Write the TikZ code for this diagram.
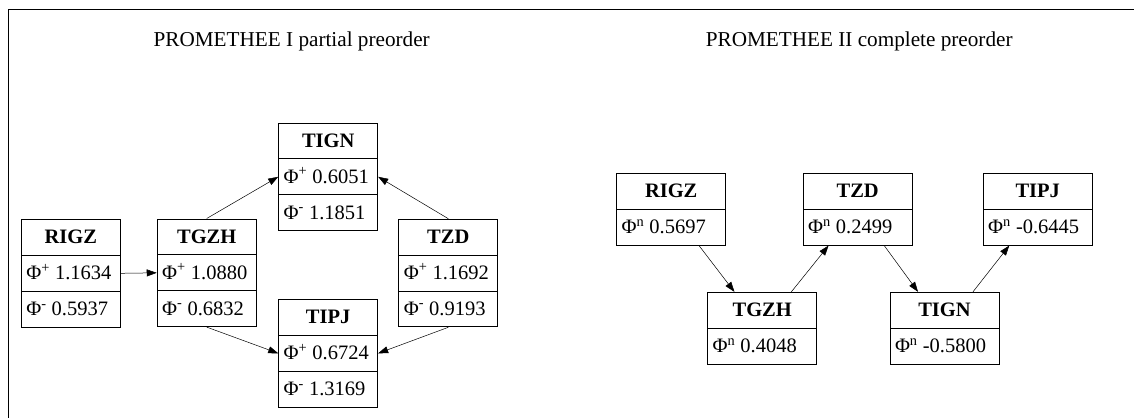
\documentclass[tikz,border=0pt]{standalone}
\usepackage{fontspec}
\setmainfont{Liberation Serif}
\usetikzlibrary{shapes.multipart,arrows.meta,calc}

% cell widths of the two record sizes
\newcommand{\recA}{89pt}
\newcommand{\recB}{99pt}
\newcommand{\rowstrut}{\rule[-11pt]{0pt}{35pt}}
\newcommand{\hd}[2]{\makebox[#1][c]{\rowstrut\textbf{#2}}}
\newcommand{\val}[3]{\makebox[#1][l]{\rowstrut Φ\textsuperscript{#2} #3}}

\tikzset{
  record/.style={rectangle split, rectangle split parts=3, draw, line width=0.9pt,
    inner xsep=5pt, inner ysep=0pt, font=\fontsize{20.5}{24}\selectfont},
  recordn/.style={record, rectangle split parts=2},
  arr/.style={-{Triangle[length=10pt,width=7pt]}, line width=0.5pt},
  heading/.style={anchor=base, font=\fontsize{21.2}{25}\selectfont},
}

\begin{document}
\begin{tikzpicture}[x=1pt,y=-1pt]
    \useasboundingbox (0,0) rectangle (1134,418);
    \draw[line width=0.8pt] (1134,9) -- (8,9) -- (8,418);

    % PROMETHEE I
    \node[heading] (t1) at (291.7,46) {PROMETHEE I partial preorder};
    \node[record] (p1-rigz) at (70.8,273.3) {\hd{\recA}{RIGZ}\nodepart{two}\val{\recA}{+}{1.1634}\nodepart{three}\val{\recA}{-}{0.5937}};
    \node[record] (p1-tgzh) at (206.7,272.8) {\hd{\recA}{TGZH}\nodepart{two}\val{\recA}{+}{1.0880}\nodepart{three}\val{\recA}{-}{0.6832}};
    \node[record] (p1-tign) at (328.2,176.8) {\hd{\recA}{TIGN}\nodepart{two}\val{\recA}{+}{0.6051}\nodepart{three}\val{\recA}{-}{1.1851}};
    \node[record] (p1-tzd) at (448.3,273) {\hd{\recA}{TZD}\nodepart{two}\val{\recA}{+}{1.1692}\nodepart{three}\val{\recA}{-}{0.9193}};
    \node[record] (p1-tipj) at (328.2,353.3) {\hd{\recA}{TIPJ}\nodepart{two}\val{\recA}{+}{0.6724}\nodepart{three}\val{\recA}{-}{1.3169}};
    \draw[arr] (p1-rigz.east) -- (p1-tgzh.west);
    \draw[arr] (p1-tgzh.north) -- (p1-tign.west);
    \draw[arr] (p1-tzd.north) -- (p1-tign.east);
    \draw[arr] (p1-tgzh.south) -- (p1-tipj.west);
    \draw[arr] (p1-tzd.south) -- (p1-tipj.east);

    % PROMETHEE II
    \node[heading] (t2) at (859.2,46) {PROMETHEE II complete preorder};
    \node[recordn] (p2-rigz) at (671.2,209.2) {\hd{\recB}{RIGZ}\nodepart{two}\val{\recB}{n}{0.5697}};
    \node[recordn] (p2-tgzh) at (762.2,328.2) {\hd{\recB}{TGZH}\nodepart{two}\val{\recB}{n}{0.4048}};
    \node[recordn] (p2-tzd) at (857.7,209.2) {\hd{\recB}{TZD}\nodepart{two}\val{\recB}{n}{0.2499}};
    \node[recordn] (p2-tign) at (944.5,328.2) {\hd{\recB}{TIGN}\nodepart{two}\val{\recB}{n}{-0.5800}};
    \node[recordn] (p2-tipj) at (1037.7,209.2) {\hd{\recB}{TIPJ}\nodepart{two}\val{\recB}{n}{-0.6445}};
    \draw[arr] (p2-rigz) -- (p2-tgzh);
    \draw[arr] (p2-tgzh) -- (p2-tzd);
    \draw[arr] (p2-tzd) -- (p2-tign);
    \draw[arr] (p2-tign) -- (p2-tipj);
\end{tikzpicture}
\end{document}
